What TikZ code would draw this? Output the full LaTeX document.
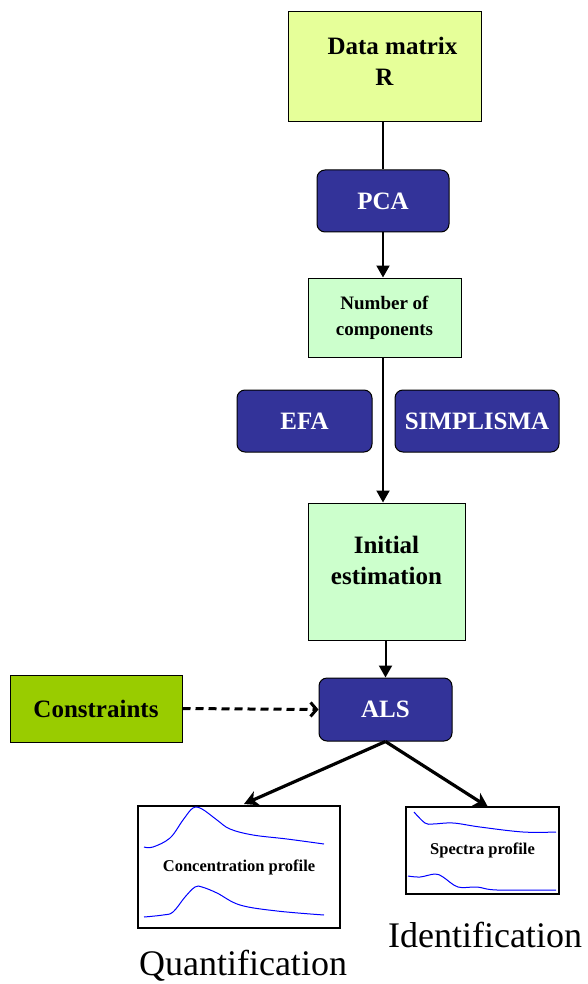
\documentclass[tikz,border=0pt]{standalone}
\usepackage{fontspec}
\setmainfont{Liberation Serif}
\usepackage{xcolor}
\usetikzlibrary{arrows.meta,positioning}

\definecolor{datafill}{HTML}{E6FF99}
\definecolor{stepfill}{HTML}{CCFFCC}
\definecolor{toolblue}{HTML}{333399}
\definecolor{constrfill}{HTML}{99CC00}

\begin{document}
\begin{tikzpicture}[
  x=1pt, y=-1pt,
  box/.style={draw, line width=1pt, inner sep=0pt, align=center, font=\bfseries\fontsize{25}{31}\selectfont},
  datbox/.style={box, fill=datafill},
  stepbox/.style={box, fill=stepfill},
  tool/.style={box, fill=toolblue, text=white, rounded corners=8pt, minimum height=62pt},
  profile/.style={draw, line width=2.8pt, inner sep=0pt, font=\bfseries\fontsize{16.5}{18}\selectfont},
  curve/.style={blue, line width=1pt},
  arrow/.style={-{Triangle[length=12pt,width=13pt]}, line width=2pt},
  fork/.style={-{Stealth[length=14pt,width=15pt,inset=4pt]}, line width=3.2pt}
]
\useasboundingbox (0,0) rectangle (588,984);

\node[datbox, minimum width=193pt, minimum height=110pt, text depth=11pt] (data) at (384.5,67) {\hspace*{16pt}Data matrix\\R};
\node[tool, minimum width=132pt] (pca) at (383,201) {PCA};
\node[stepbox, minimum width=153pt, minimum height=79pt, font=\bfseries\fontsize{19}{26}\selectfont] (ncomp) at (384.5,317.5) {Number of\\components};
\node[tool, minimum width=135pt] (efa) at (304.5,421) {EFA};
\node[tool, minimum width=164pt] (simpl) at (477,421) {SIMPLISMA};
\node[stepbox, minimum width=157pt, minimum height=137pt, text depth=22pt] (init) at (386.5,571.5) {Initial\\estimation};
\node[tool, minimum width=133pt, minimum height=63pt] (als) at (385.5,709.5) {ALS};
\node[box, fill=constrfill, minimum width=172pt, minimum height=67pt] (constr) at (96,708.5) {Constraints};

\node[profile, minimum width=202pt, minimum height=122pt] (conc) at (239,867) {Concentration profile};
\node[profile, minimum width=153pt, minimum height=87pt] (spec) at (482.5,850.5) {Spectra profile};

\node[font=\fontsize{36}{40}\selectfont] (quant) at (243,966) {Quantification};
\node[font=\fontsize{36}{40}\selectfont] (ident) at (485,935) {Identification};

% main chain
\draw[line width=2pt] (data.south -| pca.north) -- (pca.north);
\draw[arrow] (pca.south) -- (ncomp.north -| pca.south);
\draw[arrow] (ncomp.south -| pca.south) -- (init.north -| pca.south);
\draw[arrow] (init.south -| als.north) -- (als.north);
\draw[line width=3pt, dash pattern=on 8pt off 5pt, -{Straight Barb[length=6pt,width=14pt]}] (constr.east) -- (als.west);
\draw[fork] (als.south) -- (244,804);
\draw[fork] (als.south) -- (488,807);

% profiles
\draw[curve] plot[smooth, tension=0.6] coordinates {(144,847) (153,847) (170,838) (183,820) (193,808) (202,809) (217,820) (230,829) (253,835) (287,839) (324,844)};
\draw[curve] plot[smooth, tension=0.6] coordinates {(144,917) (163,915) (173,912) (185,897) (195,887) (202,887) (217,893) (240,905) (277,911) (324,915)};
\draw[curve] plot[smooth, tension=0.6] coordinates {(414,812) (425,823) (433,824) (453,823) (480,827) (523,832) (556,832)};
\draw[curve] plot[smooth, tension=0.6] coordinates {(408,876) (420,877) (435,874) (443,877) (458,887) (477,887) (497,890) (556,890)};
\end{tikzpicture}
\end{document}
